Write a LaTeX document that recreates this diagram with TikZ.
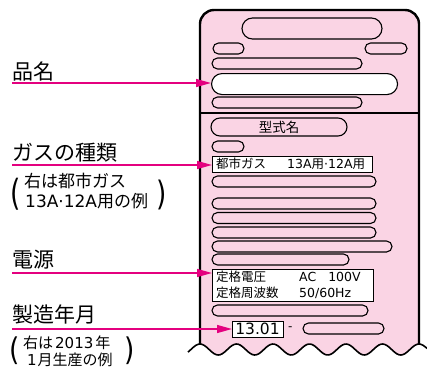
\documentclass[tikz,border=0pt]{standalone}
\usepackage{fontspec}
\setmainfont{Noto Sans CJK JP}
\newfontfamily\lt{DejaVu Sans}
\usetikzlibrary{arrows.meta}
\definecolor{lpink}{RGB}{250,212,228}
\definecolor{mag}{RGB}{228,0,127}
\begin{document}
\begin{tikzpicture}[x=1pt,y=-1pt,
 pill/.style={draw=black, line width=1.1pt, fill=lpink},
 wtarget/.style={draw=black, line width=1.1pt, fill=white, inner sep=0pt, anchor=north west},
 lab/.style={font=\fontsize{21}{21}\selectfont, anchor=west, inner sep=0pt},
 sub/.style={font=\fontsize{17}{17}\selectfont, anchor=west, inner sep=0pt},
 subb/.style={font=\fontsize{15}{15}\selectfont, anchor=west, inner sep=0pt},
 small/.style={font=\fontsize{12.5}{12.5}\selectfont, anchor=west, inner sep=0pt},
 paren/.style={font=\lt\fontsize{24}{24}\selectfont, inner sep=0pt},
 arr/.style={draw=mag, line width=1.3pt, -{Triangle[length=15pt,width=8pt]}},
]
\useasboundingbox (0,0) rectangle (427,369);
% panel fill
\fill[lpink] (200,344) -- (200,24) .. controls (200,16.3) and (206.3,10) .. (214,10) -- (405,10) .. controls (412.7,10) and (419,16.3) .. (419,24) -- (419,344)
  -- plot[domain=419:200, samples=90] (\x,{349.5-5.5*cos(9.863*(\x-200))}) -- cycle;
\draw[line width=2.4pt] (200,344) -- (200,24) .. controls (200,16.3) and (206.3,10) .. (214,10) -- (405,10) .. controls (412.7,10) and (419,16.3) .. (419,24) -- (419,344);
\draw[line width=1.6pt] plot[domain=188:427, samples=120] (\x,{349.5-5.5*cos(9.863*(\x-200))});
\draw[line width=2pt] (200,113) -- (419,113);
% pills
\draw[pill, rounded corners=10.5pt] (242,18) rectangle (382,39);
\draw[pill, rounded corners=5.5pt] (213,43) rectangle (244,54);
\draw[pill, rounded corners=5.5pt] (365,43) rectangle (407,54);
\draw[pill, rounded corners=5.5pt] (212,58) rectangle (362,69);
\node[wtarget, rounded corners=10.5pt, minimum width=186pt, minimum height=21pt] (pname) at (211,73) {};
\draw[pill, rounded corners=5.5pt] (212,97) rectangle (362,108);
\draw[pill, rounded corners=9pt] (211,118) rectangle (347,136);
\node[font=\fontsize{13.5}{13.5}\selectfont, inner sep=0pt] (model) at (279,127) {型式名};
\draw[pill, rounded corners=5.5pt] (212,141) rectangle (244,152);
\node[wtarget, minimum width=160pt, minimum height=16pt] (gas) at (212,156) {};
\node[small] (gas1) at (216,164) {都市ガス};
\node[small] (gas2) at (287,164) {{\lt 13A}用{\lt ·12A}用};
\draw[pill, rounded corners=5.5pt] (212,176) rectangle (376,187);
\draw[pill, rounded corners=5.5pt] (212,198) rectangle (376,209);
\draw[pill, rounded corners=5.5pt] (212,212.5) rectangle (376,223.5);
\draw[pill, rounded corners=5.5pt] (212,227) rectangle (376,238);
\draw[pill, rounded corners=5.5pt] (212,241) rectangle (392,252);
\draw[pill, rounded corners=5.5pt] (212,254) rectangle (349,265);
\node[wtarget, minimum width=161pt, minimum height=32pt] (power) at (212,269) {};
\node[small] (pw1) at (216,277) {定格電圧};
\node[small, font=\lt\fontsize{12.5}{12.5}\selectfont] (pw2) at (299,277) {AC\hspace{12pt}100V};
\node[small] (pw3) at (216,293) {定格周波数};
\node[small, font=\lt\fontsize{12.5}{12.5}\selectfont] (pw4) at (299,293) {50/60Hz};
\draw[pill, rounded corners=5.5pt] (212,305) rectangle (368,316);
\node[wtarget, minimum width=51pt, minimum height=16pt] (date) at (232,321) {};
\node[font=\lt\fontsize{15.5}{15.5}\selectfont, inner sep=0pt] (datet) at (257.5,329) {13.01};
\node[small, font=\lt\fontsize{12}{12}\selectfont] (dash) at (288,329) {-};
\draw[pill, rounded corners=5.5pt] (303,323) rectangle (384,334);
% left labels
\node[lab] (l1) at (12,72) {品名};
\node[lab] (l2) at (12,153) {ガスの種類};
\node[sub] (l2a) at (24,181) {右は都市ガス};
\node[sub] (l2b) at (25,201) {{\lt 13A·12A}用の例};
\node[paren] (p1) at (16,194.5) {\scalebox{1.1}[1.5]{(}};
\node[paren] (p2) at (162,195) {\scalebox{1.1}[1.4]{)}};
\node[lab] (l3) at (12,260) {電源};
\node[lab] (l4) at (12,314) {製造年月};
\node[subb] (l4a) at (23,343) {右は\hspace{2pt}{\lt 2013}\hspace{2pt}年};
\node[subb] (l4b) at (27,359.5) {{\lt 1}\hspace{1pt}月生産の例};
\node[paren] (p3) at (15,351) {\scalebox{1.1}[1.3]{(}};
\node[paren] (p4) at (130,351) {\scalebox{1.1}[1.3]{)}};
% arrows
\coordinate (s1) at (12,83);
\coordinate (s2) at (12,165);
\coordinate (s3) at (12,273);
\coordinate (s4) at (12,329);
\draw[arr] (s1) -- (s1 -| pname.west);
\draw[arr] (s2) -- (s2 -| gas.west);
\draw[arr] (s3) -- (s3 -| power.west);
\draw[arr] (s4) -- (s4 -| date.west);
\end{tikzpicture}
\end{document}
